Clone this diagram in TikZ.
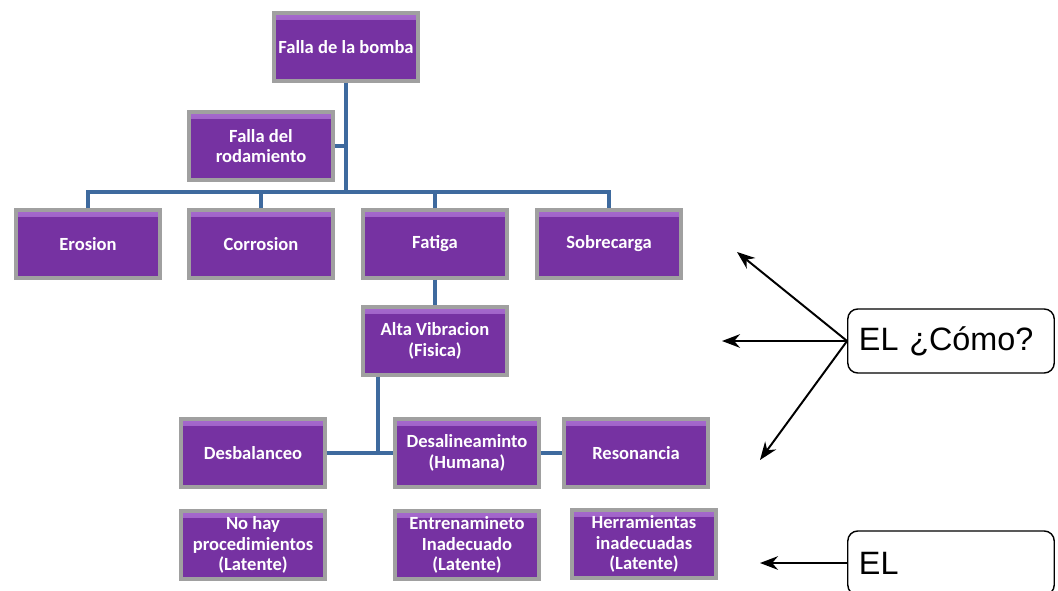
\documentclass[tikz,border=0pt]{standalone}
\usepackage{fontspec}
\setmainfont{Carlito}
\newfontfamily\notefont{Liberation Sans}
\usetikzlibrary{positioning,calc,arrows.meta}
\definecolor{boxfill}{RGB}{118,50,162}
\definecolor{boxlight}{RGB}{165,105,205}
\definecolor{boxedge}{RGB}{160,160,160}
\definecolor{linkblue}{RGB}{62,106,158}

\begin{document}
\begin{tikzpicture}[x=0.025cm,y=-0.025cm,
    cause/.style={rectangle,draw=boxedge,line width=2.2pt,fill=boxfill,minimum width=3.6cm,minimum height=1.7cm,align=center,text=white,inner sep=1pt,font=\fontsize{13.2}{14.6}\selectfont\bfseries,
      path picture={\shade[top color=boxlight,bottom color=boxfill] (path picture bounding box.north west) rectangle ([yshift=-4.5pt]path picture bounding box.north east);}},
    link/.style={draw=linkblue,line width=2.8pt},
    note/.style={rectangle,rounded corners=0.25cm,draw,line width=1pt,minimum width=5.15cm,minimum height=1.6cm,text width=4.6cm,align=left,inner sep=0.28cm,font=\notefont\fontsize{23}{26}\selectfont},
    pointer/.style={-{Stealth[length=4.5mm,width=3.4mm]},line width=1.4pt}]

\useasboundingbox (0,0) rectangle (1058,591);

\node[cause] (bomba) at (346,47) {Falla de la bomba};
\node[cause] (rodam) at (261,146) {Falla del\\rodamiento};

\node[cause] (erosion) at (88,244) {Erosion};
\node[cause] (corros) at (261,244) {Corrosion};
\node[cause] (fatiga) at (435,244) {Fatiga};
\node[cause] (sobrec) at (609,244) {Sobrecarga};

\node[cause] (vibra) at (435,341) {Alta Vibracion\\(Fisica)};

\node[cause] (desbal) at (253,453) {Desbalanceo};
\node[cause] (desali) at (467,453) {Desalineaminto\\(Humana)};
\node[cause] (reson) at (636,453) {Resonancia};

\node[cause] (nohay) at (253,545) {No hay\\procedimientos\\(Latente)};
\node[cause] (entren) at (467,545) {Entrenamineto\\Inadecuado\\(Latente)};
\node[cause] (herram) at (644,544) {Herramientas\\inadecuadas\\(Latente)};

\node[note] (como) at (951,341) {EL ¿Cómo?};
\node[note] (el) at (951,563) {EL};

\coordinate (bus) at (346,192);
\coordinate (drop) at (378,453);
\coordinate (toSob) at (737,252);
\coordinate (toVib) at (722,341);
\coordinate (toRes) at (760,460);
\coordinate (toHer) at (760,563);

\draw[link] (bomba) -- (bus);
\draw[link] (rodam.east) -- (rodam.east -| bus);
\draw[link] (erosion.north) -- (erosion.north |- bus) -- (sobrec.north |- bus) -- (sobrec.north);
\draw[link] (corros.north) -- (corros.north |- bus);
\draw[link] (fatiga.north) -- (fatiga.north |- bus);
\draw[link] (fatiga) -- (vibra);
\draw[link] (vibra.south -| drop) -- (drop);
\draw[link] (desbal) -- (desali);
\draw[link] (desali) -- (reson);

\draw[pointer] (como.west) -- (toSob);
\draw[pointer] (como.west) -- (toVib);
\draw[pointer] (como.west) -- (toRes);
\draw[pointer] (el.west) -- (toHer);

\end{tikzpicture}
\end{document}
